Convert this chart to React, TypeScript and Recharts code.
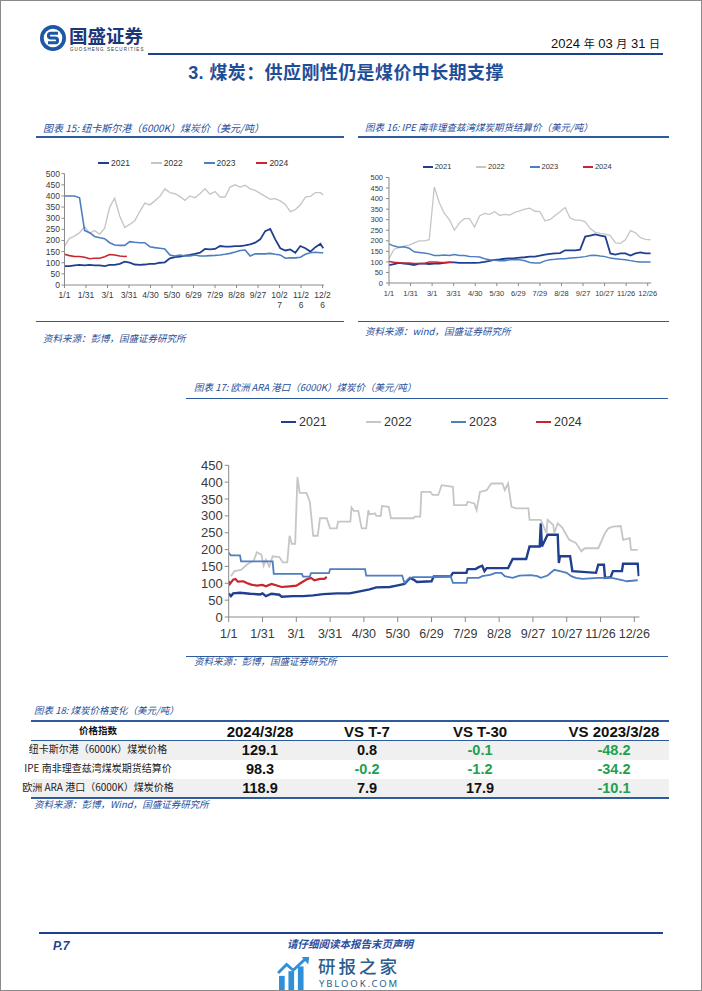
import React from 'react';
import { LineChart, Line, XAxis, YAxis } from 'recharts';

// ---------- shared axis data ----------
const TICK_DAYS = [0, 30, 60, 90, 120, 150, 180, 210, 240, 270, 300, 330, 360];
const TICK_LABELS = ['1/1', '1/31', '3/1', '3/31', '4/30', '5/30', '6/29', '7/29', '8/28', '9/27', '10/27', '11/26', '12/26'];
const YEARS = ['2021', '2022', '2023', '2024'];
const Y_TICKS_500 = [0, 50, 100, 150, 200, 250, 300, 350, 400, 450, 500];
const Y_TICKS_450 = [0, 50, 100, 150, 200, 250, 300, 350, 400, 450];

// ---------- 图表15 纽卡斯尔港 (day of year, weekly) ----------
const NEWC_DAYS = [0, 7, 14, 21, 28, 35, 42, 49, 56, 63, 70, 77, 84, 91, 98, 105, 112, 119, 126, 133, 140, 147, 154, 161, 168, 175, 182, 189, 196, 203, 210, 217, 224, 231, 238, 245, 252, 259, 266, 273, 280, 287, 294, 301, 308, 315, 322, 329, 336, 343, 350, 357, 361];
const NEWC_2021 = [85, 85, 88, 90, 88, 90, 88, 88, 85, 90, 90, 95, 105, 100, 92, 90, 92, 95, 95, 100, 102, 120, 125, 128, 132, 135, 140, 145, 162, 160, 162, 175, 172, 172, 175, 175, 178, 183, 190, 205, 242, 252, 205, 165, 155, 160, 145, 175, 165, 150, 170, 185, 165];
const NEWC_2022 = [175, 210, 220, 235, 262, 232, 245, 228, 255, 350, 390, 310, 258, 272, 288, 330, 368, 360, 378, 398, 432, 415, 410, 398, 380, 400, 392, 410, 432, 408, 420, 395, 395, 440, 450, 440, 448, 432, 425, 412, 398, 385, 388, 378, 362, 330, 338, 360, 395, 398, 415, 415, 405];
const NEWC_2023 = [400, 400, 400, 392, 245, 235, 218, 212, 208, 190, 180, 178, 178, 195, 192, 190, 190, 172, 168, 165, 162, 135, 130, 135, 130, 130, 135, 130, 130, 132, 133, 135, 138, 142, 148, 155, 157, 130, 140, 140, 140, 142, 138, 135, 120, 122, 122, 125, 138, 145, 147, 145, 145];
const NEWC_2024_DAYS = [0, 7, 14, 21, 28, 35, 42, 49, 56, 63, 70, 77, 84, 87];
const NEWC_2024 = [138, 132, 128, 128, 125, 118, 120, 120, 127, 137, 135, 130, 128, 129];

// ---------- 图表16 IPE 南非理查兹湾 ----------
const IPE_DAYS = [0, 7, 14, 21, 28, 35, 42, 49, 56, 63, 70, 77, 84, 91, 98, 105, 112, 119, 126, 133, 140, 147, 154, 161, 168, 175, 182, 189, 196, 203, 210, 217, 224, 231, 238, 245, 252, 259, 266, 273, 280, 287, 294, 301, 308, 315, 322, 329, 336, 343, 350, 357, 364];
const IPE_2021 = [85, 90, 95, 92, 90, 85, 92, 92, 90, 92, 92, 95, 98, 98, 95, 95, 95, 95, 97, 100, 105, 110, 112, 115, 117, 118, 120, 122, 125, 125, 130, 135, 138, 140, 142, 155, 155, 155, 158, 220, 225, 230, 225, 220, 140, 135, 140, 140, 130, 140, 145, 140, 140];
const IPE_2022 = [115, 160, 168, 175, 180, 190, 200, 200, 205, 455, 380, 330, 300, 250, 285, 305, 305, 265, 318, 330, 325, 338, 320, 325, 322, 335, 342, 350, 355, 340, 338, 295, 300, 320, 338, 358, 308, 298, 298, 290, 258, 240, 235, 232, 225, 190, 188, 205, 248, 238, 215, 207, 205];
const IPE_2023 = [185, 175, 170, 172, 165, 148, 145, 142, 138, 130, 130, 133, 130, 135, 130, 130, 126, 125, 123, 115, 110, 108, 105, 105, 110, 110, 110, 105, 97, 95, 95, 105, 110, 112, 115, 115, 118, 120, 122, 125, 130, 132, 128, 125, 118, 115, 112, 110, 106, 102, 100, 100, 100];
const IPE_2024_DAYS = [0, 7, 14, 21, 28, 35, 42, 49, 56, 63, 70, 77, 84, 87];
const IPE_2024 = [102, 98, 96, 95, 95, 92, 93, 93, 100, 100, 98, 97, 98, 98];

// ---------- 图表17 欧洲 ARA 港口 ([day, value]) ----------
const ARA_2021: [number, number][] = [[0, 70], [2, 62], [4, 70], [10, 72], [19, 69], [28, 67], [30, 70], [33, 62], [38, 69], [45, 66], [47, 60], [57, 62], [66, 62], [75, 64], [84, 68], [96, 70], [107, 70], [113, 74], [125, 82], [131, 88], [143, 89], [149, 93], [156, 98], [161, 116], [164, 111], [167, 104], [180, 106], [182, 120], [197, 121], [199, 131], [211, 131], [212, 142], [219, 142], [222, 148], [225, 152], [227, 136], [229, 145], [248, 145], [252, 172], [264, 172], [267, 209], [276, 209], [277, 278], [278, 209], [283, 244], [292, 244], [293, 160], [294, 180], [303, 180], [305, 136], [326, 131], [328, 155], [333, 155], [334, 116], [339, 118], [341, 136], [349, 136], [350, 158], [363, 158], [364, 121]];
const ARA_2022: [number, number][] = [[2, 121], [5, 136], [11, 140], [16, 155], [19, 162], [22, 165], [25, 192], [29, 185], [31, 152], [33, 170], [36, 150], [39, 180], [45, 178], [48, 162], [52, 162], [54, 241], [56, 217], [59, 217], [61, 415], [63, 368], [69, 368], [72, 342], [75, 241], [79, 241], [81, 293], [87, 293], [90, 263], [96, 263], [97, 283], [108, 283], [109, 325], [111, 315], [115, 315], [118, 263], [122, 263], [124, 317], [125, 305], [130, 307], [131, 300], [135, 300], [136, 329], [142, 327], [144, 293], [164, 293], [165, 298], [170, 298], [171, 371], [179, 371], [181, 362], [186, 362], [189, 391], [199, 386], [200, 332], [211, 332], [212, 342], [218, 337], [220, 317], [223, 371], [229, 376], [233, 396], [243, 396], [245, 376], [248, 396], [251, 327], [255, 322], [266, 322], [267, 288], [277, 288], [282, 249], [283, 288], [288, 273], [289, 249], [292, 278], [296, 265], [302, 230], [308, 220], [313, 195], [316, 204], [328, 204], [334, 249], [337, 263], [341, 268], [348, 270], [350, 229], [356, 234], [357, 199], [363, 199]];
const ARA_2023: [number, number][] = [[0, 190], [2, 183], [10, 183], [11, 165], [39, 165], [40, 128], [65, 128], [66, 120], [72, 120], [73, 130], [89, 130], [90, 142], [121, 142], [122, 123], [154, 123], [156, 101], [160, 115], [164, 118], [180, 118], [197, 121], [199, 101], [211, 101], [212, 116], [222, 116], [225, 121], [232, 125], [237, 131], [242, 131], [245, 121], [252, 116], [258, 123], [268, 124], [274, 121], [277, 116], [283, 123], [289, 140], [294, 136], [300, 131], [304, 121], [308, 116], [314, 113], [328, 116], [340, 116], [350, 109], [353, 106], [363, 109]];
const ARA_2024: [number, number][] = [[0, 106], [1, 98], [4, 111], [6, 113], [8, 105], [13, 106], [16, 101], [20, 96], [25, 93], [30, 95], [33, 91], [38, 98], [42, 94], [47, 89], [54, 91], [60, 93], [65, 103], [69, 111], [73, 116], [76, 109], [81, 113], [85, 113], [87, 119]];

// ---------- 图表18 table ----------
const TABLE_HEADERS = ['价格指数', '2024/3/28', 'VS T-7', 'VS T-30', 'VS 2023/3/28'];
const TABLE_ROWS = ['纽卡斯尔港（6000K）煤炭价格', 'IPE 南非理查兹湾煤炭期货结算价', '欧洲 ARA 港口（6000K）煤炭价格'];
const TABLE_LATEST = [129.1, 98.3, 118.9];
const TABLE_T7 = [0.8, -0.2, 7.9];
const TABLE_T30 = [-0.1, -1.2, 17.9];
const TABLE_YOY = [-48.2, -34.2, -10.1];

// ---------- styles ----------
const COLORS = ['#1f3f8f', '#c6c6c6', '#4d7ec0', '#c8262c'];
const BLUE = '#1f4e99';
const CJK = "'Noto Sans CJK SC', 'Noto Sans', sans-serif";
const ARIAL = "'Liberation Sans', Arial, sans-serif";

type Pt = [number, number];
const zip = (days: number[], vals: number[]): Pt[] => days.map((d, i) => [d, vals[i]]);

function mergeSeries(series: Pt[][]) {
  const map = new Map<number, any>();
  series.forEach((pts, si) => {
    pts.forEach(([d, v]) => {
      if (!map.has(d)) map.set(d, { d });
      map.get(d)['y' + YEARS[si]] = v;
    });
  });
  return Array.from(map.values()).sort((a, b) => a.d - b.d);
}

const NEWC_DATA = mergeSeries([zip(NEWC_DAYS, NEWC_2021), zip(NEWC_DAYS, NEWC_2022), zip(NEWC_DAYS, NEWC_2023), zip(NEWC_2024_DAYS, NEWC_2024)]);
const IPE_DATA = mergeSeries([zip(IPE_DAYS, IPE_2021), zip(IPE_DAYS, IPE_2022), zip(IPE_DAYS, IPE_2023), zip(IPE_2024_DAYS, IPE_2024)]);
const ARA_DATA = mergeSeries([ARA_2021, ARA_2022, ARA_2023, ARA_2024]);

type ChartCfg = {
  left: number; top: number; width: number; height: number;
  mTop: number; mRight: number; yAxisWidth: number; xAxisHeight: number;
  xMax: number; yMax: number; yTicks: number[];
  fontSize: number; fontFamily: string; xFontSize: number;
  xTickSize: number; yTickSize: number; yTickMargin: number;
  xLabelOffset: number; wrap: boolean; widths: number[];
};

function PriceChart({ cfg, data }: { cfg: ChartCfg; data: any[] }) {
  const renderXTick = (p: any) => {
    const idx = TICK_DAYS.indexOf(p.payload.value);
    const label = idx >= 0 ? TICK_LABELS[idx] : '';
    const lines = cfg.wrap && label.length > 4 ? [label.slice(0, 4), label.slice(4)] : [label];
    return (
      <g>
        {lines.map((l, i) => (
          <text key={i} x={p.x} y={p.y + cfg.xLabelOffset + i * (cfg.xFontSize + 1.5)} textAnchor="middle"
            fontSize={cfg.xFontSize} fontFamily={cfg.fontFamily} fill="#3a3a3a">{l}</text>
        ))}
      </g>
    );
  };
  return (
    <div style={{ position: 'absolute', left: cfg.left, top: cfg.top }}>
      <LineChart width={cfg.width} height={cfg.height} data={data}
        margin={{ top: cfg.mTop, right: cfg.mRight, bottom: 0, left: 0 }}>
        <XAxis type="number" dataKey="d" domain={[0, cfg.xMax]} ticks={TICK_DAYS} interval={0}
          height={cfg.xAxisHeight} tickSize={cfg.xTickSize} tickMargin={0}
          axisLine={{ stroke: '#8a8a8a' }} tickLine={{ stroke: '#8a8a8a' }}
          tick={renderXTick} allowDataOverflow />
        <YAxis type="number" domain={[0, cfg.yMax]} ticks={cfg.yTicks} interval={0}
          width={cfg.yAxisWidth} tickSize={cfg.yTickSize} tickMargin={cfg.yTickMargin}
          axisLine={{ stroke: '#8a8a8a' }} tickLine={{ stroke: '#8a8a8a' }}
          tick={{ fontSize: cfg.fontSize, fontFamily: cfg.fontFamily, fill: '#3a3a3a' }} allowDataOverflow />
        {YEARS.map((y, i) => (
          <Line key={y} type="linear" dataKey={'y' + y} stroke={COLORS[i]} strokeWidth={cfg.widths[i]}
            dot={false} activeDot={false} connectNulls isAnimationActive={false} />
        ))}
      </LineChart>
    </div>
  );
}

function ChartLegend({ left, cy, spacing, lineLen, gap, fontSize, thickness, fontFamily }:
  { left: number; cy: number; spacing: number; lineLen: number; gap: number; fontSize: number; thickness: number; fontFamily: string }) {
  return (
    <>
      {YEARS.map((y, i) => (
        <div key={y} style={{ position: 'absolute', left: left + i * spacing, top: cy - 10, height: 20, display: 'flex', alignItems: 'center', whiteSpace: 'nowrap' }}>
          <span style={{ display: 'inline-block', width: lineLen, height: thickness, background: COLORS[i], marginRight: gap }} />
          <span style={{ fontSize, fontFamily, color: '#333', lineHeight: 1 }}>{y}</span>
        </div>
      ))}
    </>
  );
}

const Txt = ({ left, top, size, children, style }: any) => (
  <div style={{ position: 'absolute', left, top, fontSize: size, lineHeight: 1, whiteSpace: 'nowrap', ...style }}>{children}</div>
);

const HLine = ({ x1, x2, y, w, color }: any) => (
  <div style={{ position: 'absolute', left: x1, top: y - w / 2, width: x2 - x1, height: w, background: color }} />
);

const NEWC_CFG: ChartCfg = {
  left: 20, top: 150, width: 320, height: 170, mTop: 22.7, mRight: 17, yAxisWidth: 43.5, xAxisHeight: 36,
  xMax: 362, yMax: 500, yTicks: Y_TICKS_500, fontSize: 8.5, xFontSize: 8.5, fontFamily: ARIAL,
  xTickSize: 3, yTickSize: 3, yTickMargin: 1.5, xLabelOffset: 9.8, wrap: true, widths: [1.8, 1.4, 1.6, 1.6],
};
const IPE_CFG: ChartCfg = {
  left: 355, top: 155, width: 315, height: 147, mTop: 21.5, mRight: 19.7, yAxisWidth: 33, xAxisHeight: 20,
  xMax: 365, yMax: 500, yTicks: Y_TICKS_500, fontSize: 7.5, xFontSize: 7.5, fontFamily: ARIAL,
  xTickSize: 3, yTickSize: 3, yTickMargin: 3, xLabelOffset: 9.5, wrap: false, widths: [1.8, 1.3, 1.5, 1.5],
};
const ARA_CFG: ChartCfg = {
  left: 180, top: 440, width: 470, height: 206, mTop: 24.3, mRight: 11.6, yAxisWidth: 47.7, xAxisHeight: 30,
  xMax: 364.5, yMax: 450, yTicks: Y_TICKS_450, fontSize: 13, xFontSize: 12.5, fontFamily: ARIAL,
  xTickSize: 5, yTickSize: 4, yTickMargin: 2, xLabelOffset: 15.5, wrap: false, widths: [2.4, 1.8, 1.8, 2.2],
};

const titleStyle = { fontFamily: CJK, fontStyle: 'italic', color: BLUE };
const fmt = (v: number) => v.toFixed(1);
const valColor = (v: number) => (v < 0 ? '#1fa050' : '#111');

const COL_X = [97, 259, 366, 479, 613];
const ROW_Y = [749, 768, 787];

export default function App() {
  return (
    <div style={{ position: 'absolute', left: 0, top: 0, width: 702, height: 991, background: '#fff', overflow: 'hidden', boxSizing: 'border-box', border: '1px solid #8a8a8a' }}>
      {/* header */}
      <svg style={{ position: 'absolute', left: 38, top: 23 }} width={28} height={28} viewBox="0 0 28 28">
        <circle cx={14} cy={14} r={13} fill="#1d57a5" />
        <circle cx={14} cy={14} r={9.3} fill="#fff" />
        <path d="M19 9.2 H11.8 a2.4 2.4 0 0 0 0 4.8 h4.4 a2.4 2.4 0 0 1 0 4.8 H9" stroke="#1d57a5" strokeWidth={3} fill="none" />
      </svg>
      <Txt left={68} top={25} size={18.5} style={{ fontFamily: CJK, fontWeight: 700, color: '#1b3778' }}>国盛证券</Txt>
      <Txt left={69} top={46.5} size={4.5} style={{ fontFamily: ARIAL, color: '#333', letterSpacing: 1.05 }}>GUOSHENG SECURITIES</Txt>
      <div style={{ position: 'absolute', right: 41, top: 36, fontSize: 13, lineHeight: 1, whiteSpace: 'nowrap', fontFamily: ARIAL, color: '#111' }}>
        2024 <span style={{ fontFamily: CJK, fontSize: 11 }}>年</span> 03 <span style={{ fontFamily: CJK, fontSize: 11 }}>月</span> 31 <span style={{ fontFamily: CJK, fontSize: 11 }}>日</span>
      </div>
      <HLine x1={147} x2={662} y={53} w={2} color="#1f3f8f" />
      <div style={{ position: 'absolute', left: 0, width: 690, top: 61, textAlign: 'center', fontSize: 18, lineHeight: 1.1, color: BLUE, fontFamily: CJK, fontWeight: 700, letterSpacing: 0.4 }}>
        <span style={{ fontFamily: ARIAL }}>3. </span>煤炭：供应刚性仍是煤价中长期支撑
      </div>

      {/* chart 15 */}
      <Txt left={42} top={122} size={10} style={titleStyle}>图表 15: 纽卡斯尔港（6000K）煤炭价（美元/吨）</Txt>
      <HLine x1={35} x2={343} y={136} w={1.5} color="#2e5b9e" />
      <ChartLegend left={97} cy={162} spacing={52.8} lineLen={11} gap={2} fontSize={8.5} thickness={2} fontFamily={ARIAL} />
      <PriceChart cfg={NEWC_CFG} data={NEWC_DATA} />
      <HLine x1={35} x2={343} y={320.5} w={1.5} color="#2e5b9e" />
      <Txt left={42} top={333} size={9.5} style={titleStyle}>资料来源：彭博，国盛证券研究所</Txt>

      {/* chart 16 */}
      <Txt left={364} top={122} size={9.5} style={titleStyle}>图表 16: IPE 南非理查兹湾煤炭期货结算价（美元/吨）</Txt>
      <HLine x1={357} x2={668} y={136} w={1.5} color="#2e5b9e" />
      <ChartLegend left={421.7} cy={165.7} spacing={53.4} lineLen={10} gap={2} fontSize={7.5} thickness={2} fontFamily={ARIAL} />
      <PriceChart cfg={IPE_CFG} data={IPE_DATA} />
      <HLine x1={357} x2={668} y={320.5} w={1.5} color="#2e5b9e" />
      <Txt left={364} top={326} size={9.5} style={titleStyle}>资料来源：wind，国盛证券研究所</Txt>

      {/* chart 17 */}
      <Txt left={193} top={382} size={9.5} style={titleStyle}>图表 17: 欧洲 ARA 港口（6000K）煤炭价（美元/吨）</Txt>
      <HLine x1={185} x2={667} y={397.5} w={1.5} color="#2e5b9e" />
      <ChartLegend left={280} cy={421} spacing={85} lineLen={15} gap={3} fontSize={12.5} thickness={2.5} fontFamily={ARIAL} />
      <PriceChart cfg={ARA_CFG} data={ARA_DATA} />
      <HLine x1={185} x2={667} y={655.5} w={1.5} color="#2e5b9e" />
      <Txt left={193} top={656} size={9.5} style={titleStyle}>资料来源：彭博，国盛证券研究所</Txt>

      {/* table 18 */}
      <Txt left={33} top={705} size={9.5} style={titleStyle}>图表 18: 煤炭价格变化（美元/吨）</Txt>
      <div style={{ position: 'absolute', left: 30, top: 740, width: 638, height: 18.5, background: '#f0f0f0' }} />
      <div style={{ position: 'absolute', left: 30, top: 777.5, width: 638, height: 19, background: '#f0f0f0' }} />
      <HLine x1={30} x2={668} y={720} w={1.5} color="#2e5b9e" />
      <HLine x1={30} x2={668} y={739.5} w={1.5} color="#2e5b9e" />
      <HLine x1={30} x2={668} y={797} w={1.5} color="#2e5b9e" />
      {TABLE_HEADERS.map((h, i) => (
        <div key={h} style={{ position: 'absolute', left: COL_X[i] - 80, width: 160, top: i === 0 ? 724.5 : 722.5, textAlign: 'center', lineHeight: 1, whiteSpace: 'nowrap',
          fontSize: i === 0 ? 9.5 : 15, fontWeight: 700, fontFamily: i === 0 ? CJK : ARIAL, color: '#111' }}>{h}</div>
      ))}
      {TABLE_ROWS.map((r, ri) => (
        <React.Fragment key={r}>
          <div style={{ position: 'absolute', left: COL_X[0] - 80, width: 160, top: ROW_Y[ri] - 6.5, textAlign: 'center', lineHeight: 1, whiteSpace: 'nowrap', fontSize: 10, fontFamily: CJK, color: '#222' }}>{r}</div>
          {[TABLE_LATEST[ri], TABLE_T7[ri], TABLE_T30[ri], TABLE_YOY[ri]].map((v, ci) => (
            <div key={ci} style={{ position: 'absolute', left: COL_X[ci + 1] - 60, width: 120, top: ROW_Y[ri] - 7.5, textAlign: 'center', lineHeight: 1, fontSize: 14.5, fontWeight: 700, fontFamily: ARIAL, color: ci === 0 ? '#111' : valColor(v) }}>{fmt(v)}</div>
          ))}
        </React.Fragment>
      ))}
      <Txt left={33} top={799} size={9.5} style={titleStyle}>资料来源：彭博，Wind，国盛证券研究所</Txt>

      {/* footer */}
      <HLine x1={38} x2={662} y={932} w={2} color="#1f3f8f" />
      <Txt left={52} top={939} size={12} style={{ fontFamily: ARIAL, fontStyle: 'italic', fontWeight: 700, color: '#1f3f8f' }}>P.7</Txt>
      <div style={{ position: 'absolute', left: 0, width: 698, top: 938, textAlign: 'center', fontSize: 10.5, lineHeight: 1, fontFamily: CJK, fontStyle: 'italic', fontWeight: 700, color: '#2a4fa0' }}>请仔细阅读本报告末页声明</div>
      <svg style={{ position: 'absolute', left: 276, top: 956 }} width={38} height={33} viewBox="0 0 40 35">
        <rect x={2} y={20} width={6} height={15} fill="#2f8fd8" />
        <rect x={12} y={15} width={6} height={20} fill="#2f8fd8" />
        <rect x={22} y={10} width={6} height={25} fill="#2f8fd8" />
        <polyline points="1,17 10,8 17,14 30,2" fill="none" stroke="#2f8fd8" strokeWidth={3} />
        <polygon points="26,0 34,0 33,8" fill="#2f8fd8" />
      </svg>
      <Txt left={317} top={955.5} size={17.5} style={{ fontFamily: CJK, color: '#2b5d8e', fontWeight: 500, letterSpacing: 3 }}>研报之家</Txt>
      <Txt left={318} top={978} size={9.5} style={{ fontFamily: "'Noto Sans', sans-serif", color: '#2b5d8e', letterSpacing: 1.9 }}>YBLOOK.COM</Txt>
    </div>
  );
}
